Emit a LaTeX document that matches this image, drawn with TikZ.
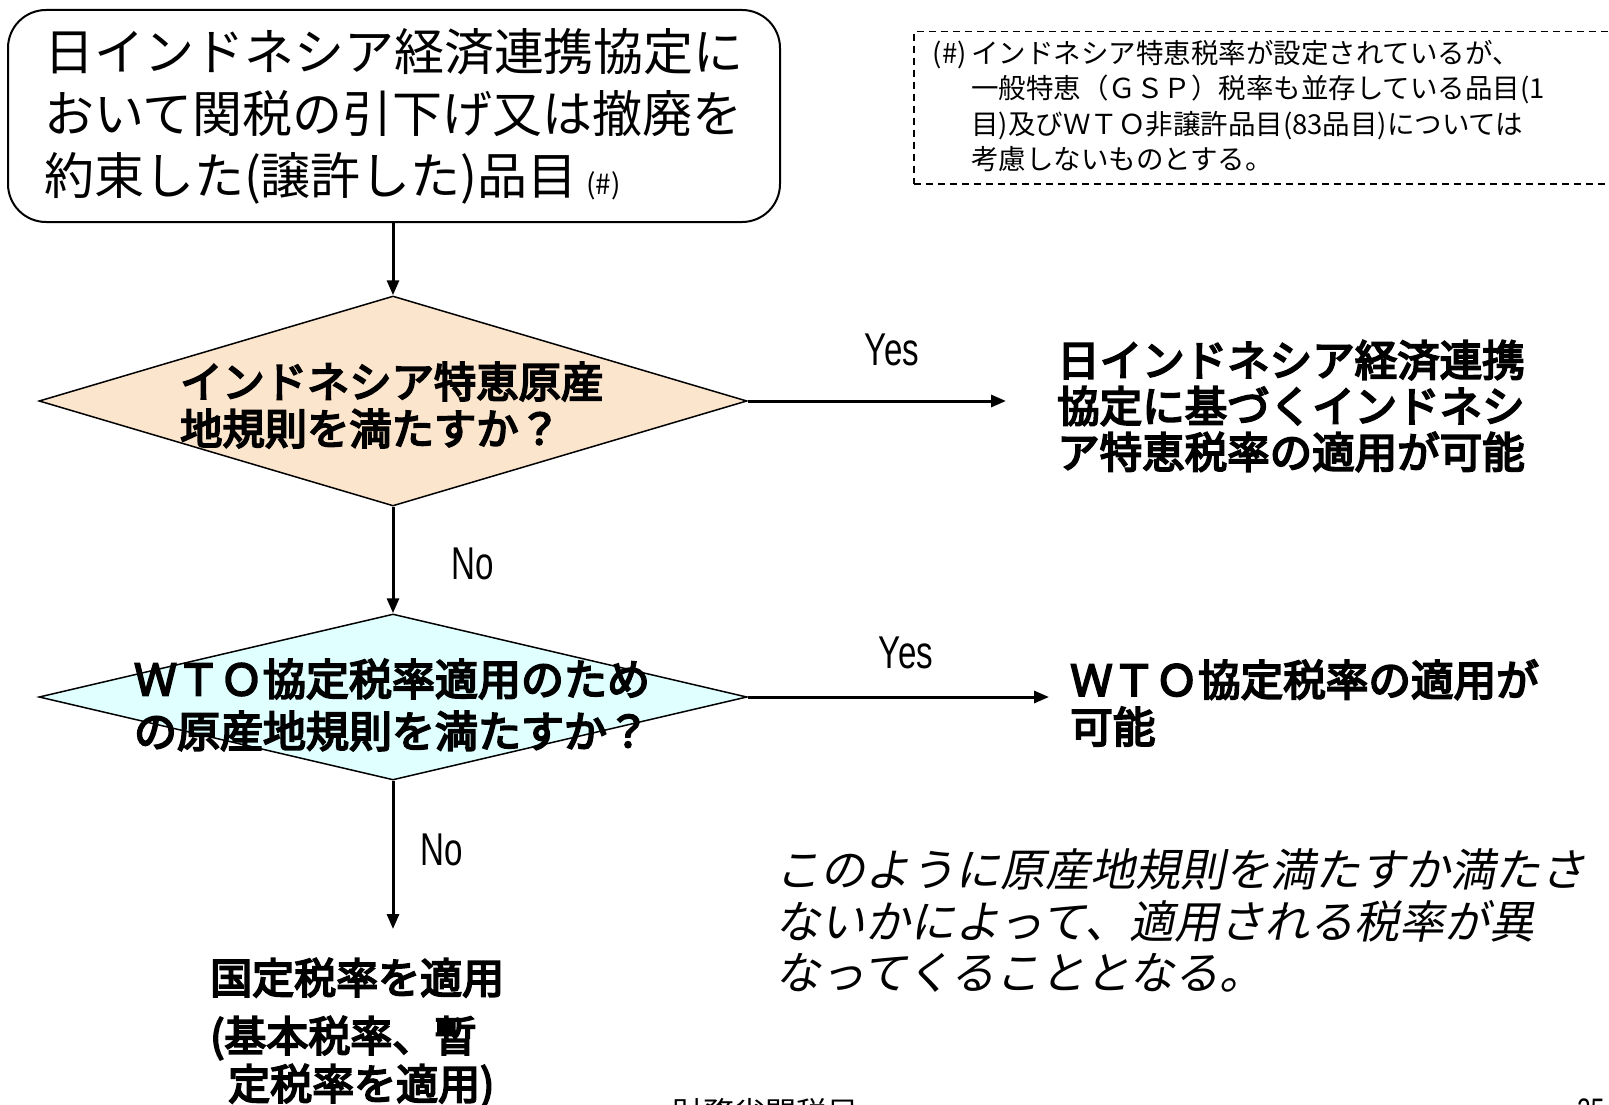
\documentclass[tikz,border=0pt]{standalone}
\usepackage{fontspec}
\setmainfont{Noto Sans CJK JP}
\newfontfamily\semibold[FakeBold=4.5]{Noto Sans CJK JP}
\newfontfamily\slantfont[FakeSlant=0.2]{Noto Sans CJK JP}
\newfontfamily\narrowfont[FakeStretch=0.72]{Liberation Sans}
\usetikzlibrary{shapes.geometric,arrows.meta}
\definecolor{peach}{HTML}{FCE5CD}
\definecolor{paleCyan}{HTML}{E0FFFF}
\begin{document}
\begin{tikzpicture}[x=1pt,y=-1pt,
  flow/.style={line width=3pt,-{Triangle[length=15pt,width=12pt]}},
  decision/.style={diamond,draw,line width=1.5pt,inner sep=0pt,minimum width=708pt,minimum height=#1},
  txt/.style={inner sep=0pt,align=left},
  yn/.style={inner sep=0pt,font={\narrowfont\fontsize{46}{46}\selectfont}}
]
\useasboundingbox (0,0) rectangle (1609,1105);
\clip (0,0) rectangle (1609,1105);

% top rounded box
\node[draw,line width=2pt,rounded corners=38pt,minimum width=772pt,minimum height=212pt,
      inner sep=0pt,align=left,font={\fontsize{50}{62}\selectfont}] (top) at (394,116)
  {日インドネシア経済連携協定に\\おいて関税の引下げ又は撤廃を\\約束した(譲許した)品目\,{\fontsize{28}{28}\selectfont(\#)}};

% note box
\node[draw,dashed,dash pattern=on 7pt off 5pt,line width=1.5pt,inner sep=0pt,
      minimum width=727pt,minimum height=152pt,anchor=north west] (notebox) at (913,31) {};
\node[txt,anchor=west,font={\fontsize{27.5}{35.3}\selectfont}] (note) at (971,106)
  {\llap{(\#)\,}インドネシア特恵税率が設定されているが、\\一般特恵（ＧＳＰ）税率も並存している品目(1\\目)及びＷＴＯ非譲許品目(83品目)については\\考慮しないものとする。};

% decision 1
\node[decision=210pt,fill=peach] (d1) at (393,401) {};
\node[txt,anchor=west,font={\semibold\fontsize{42.3}{47}\selectfont}] (d1t) at (180,405)
  {インドネシア特恵原産\\地規則を満たすか？};

% decision 2
\node[decision=166pt,fill=paleCyan] (d2) at (393,697) {};
\node[txt,anchor=center,font={\semibold\fontsize{43}{52}\selectfont}] (d2t) at (392,705)
  {ＷＴＯ協定税率適用のため\\の原産地規則を満たすか？};

% results
\node[txt,anchor=west,font={\semibold\fontsize{42.5}{46}\selectfont}] (r1) at (1057,406)
  {日インドネシア経済連携\\協定に基づくインドネシ\\ア特恵税率の適用が可能};
\node[txt,anchor=west,font={\semibold\fontsize{42.6}{47}\selectfont}] (r2) at (1070,703)
  {ＷＴＯ協定税率の適用が\\可能};
\node[txt,anchor=west,font={\semibold\fontsize{42}{48}\selectfont}] (r3) at (210,1033)
  {国定税率を適用\\[10pt](基本税率、暫\\\hspace*{18pt}定税率を適用)};

% italic remark
\node[txt,anchor=west,font={\slantfont\fontsize{45}{51.5}\selectfont}] (remark) at (775,921)
  {このように原産地規則を満たすか満たさ\\ないかによって、適用される税率が異\\なってくることとなる。};

% footer (cut off at the bottom edge, as in the reference)
\node[inner sep=0pt,anchor=base west,font={\fontsize{31}{31}\selectfont}] (footer) at (672,1124) {財務省関税局};
\node[inner sep=0pt,anchor=base west,font={\narrowfont\fontsize{34}{34}\selectfont}] (pageno) at (1577,1122) {25};

% connectors
\coordinate (e1) at (1006,401);
\coordinate (e2) at (1049,697);
\coordinate (e3) at (393,929);
\draw[flow] (top.south -| d1.north) -- (d1.north);
\draw[flow] (d1.south) -- (d2.north);
\draw[flow] (d2.south) -- (e3);
\draw[flow] (d1.east) -- (e1);
\draw[flow] (d2.east) -- (e2);

% labels
\node[yn] (yes1) at (892,350) {Yes};
\node[yn] (yes2) at (906,653) {Yes};
\node[yn] (no1) at (473,564) {No};
\node[yn] (no2) at (442,850) {No};
\end{tikzpicture}
\end{document}
